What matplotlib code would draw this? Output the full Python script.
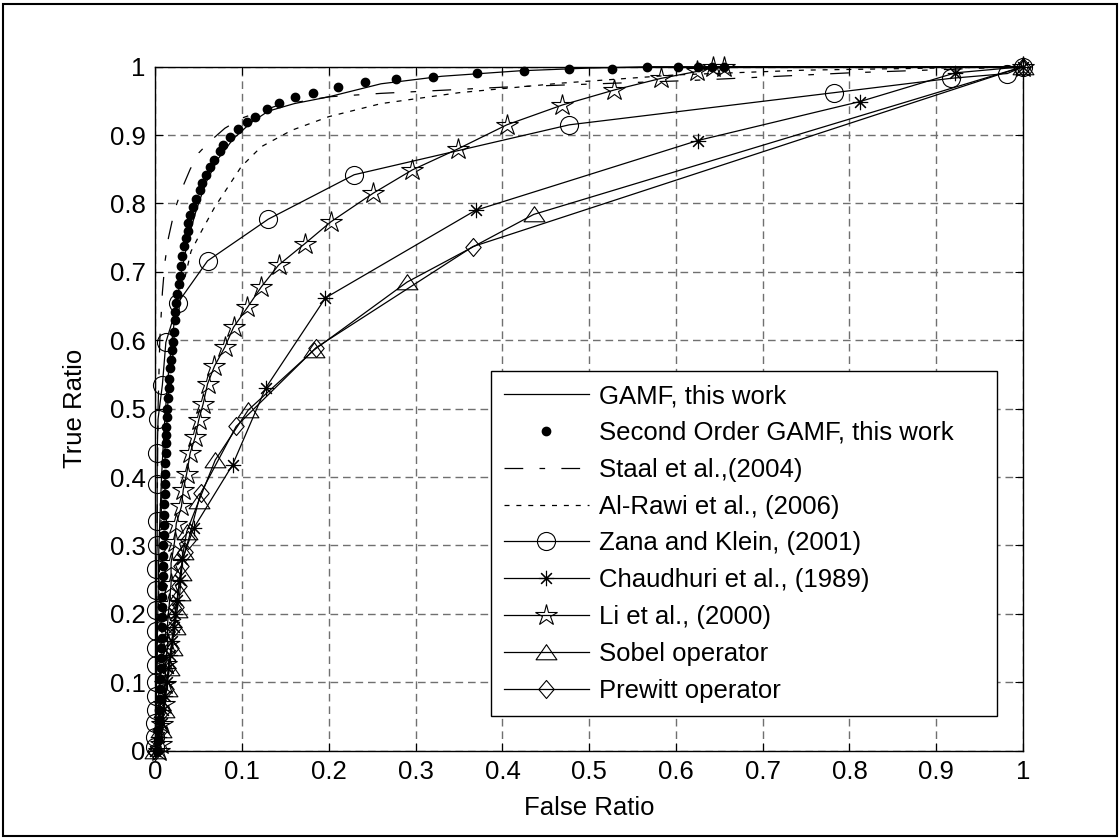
import matplotlib.pyplot as plt
from matplotlib.patches import Rectangle
from matplotlib.path import Path

plt.rcParams['font.family'] = ['Liberation Sans', 'DejaVu Sans']
plt.rcParams['font.size'] = 18.5

# ROC points (false ratio, true ratio) for each detector
labels = ['GAMF, this work', 'Second Order GAMF, this work', 'Staal et al.,(2004)',
          'Al-Rawi et al., (2006)', 'Zana and Klein, (2001)', 'Chaudhuri et al., (1989)',
          'Li et al., (2000)', 'Sobel operator', 'Prewitt operator']

gamf_x = [0.000, 0.002, 0.004, 0.007, 0.010, 0.014, 0.019, 0.024, 0.030, 0.038, 0.047, 0.058,
          0.072, 0.090, 0.110, 0.130, 0.160, 0.200, 0.260, 0.330, 0.420, 0.500, 0.570, 1.000]
gamf_y = [0.000, 0.150, 0.300, 0.400, 0.470, 0.540, 0.600, 0.650, 0.700, 0.750, 0.790, 0.830,
          0.865, 0.895, 0.918, 0.935, 0.946, 0.956, 0.975, 0.986, 0.994, 0.998, 1.000, 1.000]

so_x = [0.002, 0.003, 0.003, 0.004, 0.004, 0.005, 0.005, 0.005, 0.006, 0.006, 0.006, 0.007,
        0.007, 0.007, 0.008, 0.008, 0.008, 0.009, 0.009, 0.009, 0.009, 0.010, 0.010, 0.010,
        0.010, 0.011, 0.011, 0.011, 0.011, 0.012, 0.012,
        0.012, 0.012, 0.013, 0.013, 0.014, 0.016, 0.016, 0.017, 0.018, 0.019, 0.020, 0.021,
        0.022, 0.023, 0.024, 0.025, 0.027, 0.028, 0.030, 0.031, 0.033, 0.035, 0.037, 0.038,
        0.040, 0.043, 0.047, 0.051, 0.054, 0.058, 0.063, 0.067, 0.074, 0.078, 0.086, 0.095,
        0.105, 0.115, 0.128, 0.142, 0.161, 0.182, 0.210, 0.242, 0.277, 0.320, 0.371, 0.425,
        0.477, 0.526, 0.567, 0.602, 0.625, 0.641, 0.655]
so_y = [0.000, 0.015, 0.030, 0.045, 0.060, 0.075, 0.090, 0.105, 0.120, 0.135, 0.150, 0.165,
        0.180, 0.195, 0.210, 0.225, 0.240, 0.255, 0.270, 0.285, 0.300, 0.315, 0.330, 0.345,
        0.360, 0.375, 0.390, 0.405, 0.420, 0.435, 0.450,
        0.462, 0.473, 0.488, 0.500, 0.515, 0.530, 0.544, 0.559, 0.571, 0.585, 0.598, 0.612,
        0.629, 0.641, 0.655, 0.667, 0.682, 0.694, 0.708, 0.723, 0.738, 0.749, 0.760, 0.771,
        0.783, 0.795, 0.807, 0.820, 0.830, 0.841, 0.854, 0.864, 0.877, 0.886, 0.897, 0.909,
        0.919, 0.927, 0.938, 0.947, 0.956, 0.962, 0.971, 0.977, 0.982, 0.985, 0.991, 0.994,
        0.997, 0.997, 1.000, 1.000, 1.000, 1.000, 1.000]

staal_x = [0.000, 0.001, 0.002, 0.003, 0.005, 0.008, 0.011, 0.015, 0.022, 0.031, 0.040, 0.050,
           0.062, 0.080, 0.100, 0.140, 0.200, 0.260, 0.400, 0.620, 0.800, 1.000]
staal_y = [0.000, 0.150, 0.350, 0.500, 0.600, 0.670, 0.715, 0.750, 0.790, 0.823, 0.850, 0.874,
           0.890, 0.910, 0.925, 0.943, 0.956, 0.961, 0.970, 0.980, 0.991, 1.000]

alrawi_x = [0.000, 0.003, 0.008, 0.015, 0.022, 0.030, 0.041, 0.052, 0.068, 0.083, 0.099, 0.122,
            0.157, 0.200, 0.260, 0.350, 0.468, 0.600, 0.750, 1.000]
alrawi_y = [0.000, 0.200, 0.400, 0.520, 0.600, 0.670, 0.730, 0.757, 0.794, 0.823, 0.854, 0.883,
            0.907, 0.927, 0.946, 0.962, 0.976, 0.988, 0.995, 1.000]

zana_x = [0.000, 0.000, 0.000, 0.001, 0.001, 0.001, 0.001, 0.001, 0.001, 0.001, 0.001, 0.001,
          0.002, 0.002, 0.002, 0.002, 0.003, 0.008, 0.012, 0.026, 0.060, 0.130, 0.229, 0.477,
          0.782, 0.917, 0.982, 1.000]
zana_y = [0.005, 0.020, 0.040, 0.060, 0.080, 0.100, 0.125, 0.150, 0.175, 0.205, 0.235, 0.265,
          0.300, 0.335, 0.390, 0.435, 0.485, 0.535, 0.597, 0.655, 0.716, 0.777, 0.842, 0.915,
          0.962, 0.983, 0.990, 1.000]

chaud_x = [0.000, 0.004, 0.007, 0.009, 0.011, 0.013, 0.015, 0.017, 0.019, 0.021, 0.023, 0.025,
           0.028, 0.031, 0.044, 0.089, 0.127, 0.196, 0.369, 0.625, 0.812, 0.922, 1.000]
chaud_y = [0.000, 0.020, 0.040, 0.060, 0.080, 0.100, 0.120, 0.140, 0.160, 0.180, 0.200, 0.220,
           0.250, 0.280, 0.325, 0.418, 0.530, 0.662, 0.790, 0.892, 0.949, 0.991, 1.000]

li_x = [0.004, 0.006, 0.008, 0.010, 0.011, 0.012, 0.014, 0.014, 0.016, 0.018, 0.018, 0.022,
        0.024, 0.030, 0.032, 0.036, 0.040, 0.046, 0.050, 0.055, 0.060, 0.068, 0.080, 0.090,
        0.106, 0.122, 0.142, 0.172, 0.202, 0.251, 0.296, 0.349, 0.405, 0.469, 0.529, 0.583,
        0.624, 0.643, 0.655, 1.000]
li_y = [0.000, 0.010, 0.039, 0.068, 0.098, 0.127, 0.156, 0.186, 0.215, 0.244, 0.274, 0.305,
        0.332, 0.357, 0.381, 0.405, 0.435, 0.459, 0.484, 0.507, 0.536, 0.562, 0.590, 0.619,
        0.648, 0.678, 0.710, 0.741, 0.773, 0.815, 0.849, 0.880, 0.915, 0.944, 0.966, 0.983,
        0.993, 0.999, 1.000, 1.000]

sobel_x = [0.000, 0.006, 0.010, 0.013, 0.016, 0.019, 0.022, 0.025, 0.028, 0.030, 0.032, 0.036,
           0.050, 0.069, 0.107, 0.183, 0.290, 0.436, 1.000]
sobel_y = [0.000, 0.030, 0.060, 0.090, 0.120, 0.150, 0.180, 0.205, 0.230, 0.260, 0.290, 0.320,
           0.365, 0.425, 0.498, 0.586, 0.685, 0.784, 1.000]

prewitt_x = [0.000, 0.005, 0.009, 0.012, 0.015, 0.018, 0.021, 0.024, 0.027, 0.030, 0.034, 0.038,
             0.052, 0.093, 0.185, 0.366, 1.000]
prewitt_y = [0.000, 0.030, 0.060, 0.090, 0.120, 0.150, 0.180, 0.210, 0.240, 0.270, 0.290, 0.308,
             0.376, 0.474, 0.589, 0.737, 1.000]

ticks = [0, 0.1, 0.2, 0.3, 0.4, 0.5, 0.6, 0.7, 0.8, 0.9, 1]
tick_labels = ['0', '0.1', '0.2', '0.3', '0.4', '0.5', '0.6', '0.7', '0.8', '0.9', '1']

# open markers in the old MATLAB look
tri = Path([(-1, -0.7), (1, -0.7), (0, 0.75), (-1, -0.7)], closed=True)
diamond = Path([(0, 1), (0.85, 0), (0, -1), (-0.85, 0), (0, 1)], closed=True)

fig = plt.figure(figsize=(11.2, 8.4), dpi=100)
ax = fig.add_axes([0.1388, 0.1065, 0.7746, 0.8141])

lw = 0.9
kw = dict(color='black', linewidth=lw, clip_on=False, mfc='none', mec='black', mew=0.8)

ax.plot(gamf_x, gamf_y, '-', label=labels[0], **kw)
ax.plot(so_x, so_y, linestyle='none', marker='o', ms=6, color='black', mfc='black',
        mec='black', clip_on=False, label=labels[1])
ax.plot(staal_x, staal_y, linestyle=(0, (15, 13, 4.5, 13)), label=labels[2], **kw)
ax.plot(alrawi_x, alrawi_y, linestyle=(0, (4, 5.5)), label=labels[3], **kw)
ax.plot(zana_x, zana_y, '-', marker='o', ms=13, label=labels[4], **kw)
ax.plot(chaud_x, chaud_y, '-', marker=(8, 2, 0), ms=11, label=labels[5], **kw)
ax.plot(li_x, li_y, '-', marker='*', ms=16, label=labels[6], **kw)
ax.plot(sobel_x, sobel_y, '-', marker=tri, ms=15, label=labels[7], **kw)
ax.plot(prewitt_x, prewitt_y, '-', marker=diamond, ms=13, label=labels[8], **kw)

ax.set_xlim(0, 1)
ax.set_ylim(0, 1)
ax.set_xticks(ticks)
ax.set_xticklabels(tick_labels)
ax.set_yticks(ticks)
ax.set_yticklabels(tick_labels)
ax.tick_params(direction='in', length=6, width=0.8, top=True, right=True, pad=7)
for sp in ax.spines.values():
    sp.set_linewidth(1.0)
ax.grid(True, color='#707070', linestyle=(0, (5.5, 3.5)), linewidth=1.0)
ax.set_axisbelow(True)

ax.set_xlabel('False Ratio', va='center')
ax.xaxis.set_label_coords(0.5, (750 - 807) / 683)
ax.set_ylabel('True Ratio', va='center')
ax.yaxis.set_label_coords((75 - 155.5) / 867.5, 0.5)

leg = ax.legend(loc='lower left', bbox_to_anchor=(0.387, 0.051, 0.583, 0.505), mode='expand',
                handlelength=3.3, handletextpad=0.4, labelspacing=0.5, borderpad=0.5,
                borderaxespad=0, fancybox=False, edgecolor='black', framealpha=1, numpoints=1)
leg.get_frame().set_linewidth(1.0)

# thin frame round the whole figure
fig.patches.append(Rectangle((0.0031, 0.0042), 0.9938, 0.9916, transform=fig.transFigure,
                             fill=False, edgecolor='black', linewidth=1.5))

fig.savefig('out.png', dpi=100)
